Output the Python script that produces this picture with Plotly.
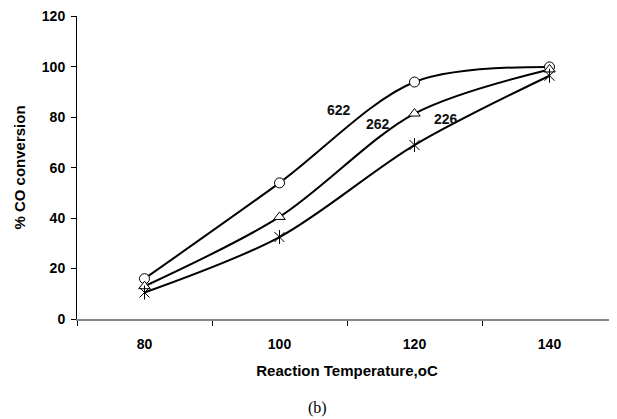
import plotly.graph_objects as go

temps = ["80", "100", "120", "140"]
s622 = [16, 54, 94, 100]
s262 = [13, 40.5, 81.5, 99]
s226 = [10.5, 32.5, 69, 96.5]
y_ticks = [0, 20, 40, 60, 80, 100, 120]

labels = ["622", "262", "226"]
label_x = [1.44, 1.73, 2.23]
label_y = [83, 77.5, 79.5]

FONT = "Liberation Sans, Arial, sans-serif"

fig = go.Figure()

def add_series(y, symbol_list):
    fig.add_trace(go.Scatter(
        x=temps, y=y, mode="lines",
        line=dict(color="black", width=2, shape="spline", smoothing=0.9),
        showlegend=False, hoverinfo="skip"))
    for sym, fill in symbol_list:
        fig.add_trace(go.Scatter(
            x=temps, y=y, mode="markers",
            marker=dict(symbol=sym, size=10, color=fill,
                        line=dict(color="black", width=1)),
            showlegend=False, hoverinfo="skip"))

add_series(s622, [("circle", "white")])
add_series(s262, [("triangle-up", "white")])
add_series(s226, [("x-thin", "black"), ("line-ns", "black")])

for t, x, y in zip(labels, label_x, label_y):
    fig.add_annotation(x=x, y=y, text=t, showarrow=False,
                       font=dict(family=FONT, size=14, color="#111", weight="bold"))

fig.add_annotation(x=0.445, y=-0.294, xref="paper", yref="paper", text="(b)",
                   showarrow=False, yanchor="middle",
                   font=dict(family="Liberation Serif, Times New Roman, serif", size=16, color="black"))

fig.update_layout(
    width=609, height=411,
    margin=dict(l=69, r=0, t=8, b=100),
    paper_bgcolor="white", plot_bgcolor="white",
    font=dict(family=FONT, size=14, color="black"),
)
fig.update_xaxes(
    type="category", categoryorder="array", categoryarray=temps,
    range=[-0.5, 3.5], tickson="boundaries", ticks="outside", ticklen=5,
    tickcolor="black", showline=True, linecolor="#888", linewidth=1.5,
    showgrid=False, zeroline=False, ticklabelstandoff=11,
    tickfont=dict(family=FONT, size=14, color="black", weight="bold"),
    title=dict(text="Reaction Temperature,oC",
               font=dict(family=FONT, size=15, weight="bold"), standoff=15),
)
fig.update_yaxes(
    range=[0, 120.2], tickvals=y_ticks, ticks="outside", ticklen=5,
    tickcolor="black", showline=True, linecolor="black", linewidth=1,
    showgrid=False, zeroline=False, ticklabelstandoff=3,
    tickfont=dict(family=FONT, size=14, color="black", weight="bold"),
    title=dict(text="% CO conversion",
               font=dict(family=FONT, size=15, weight="bold"), standoff=12),
)

fig.write_html("out.html")
